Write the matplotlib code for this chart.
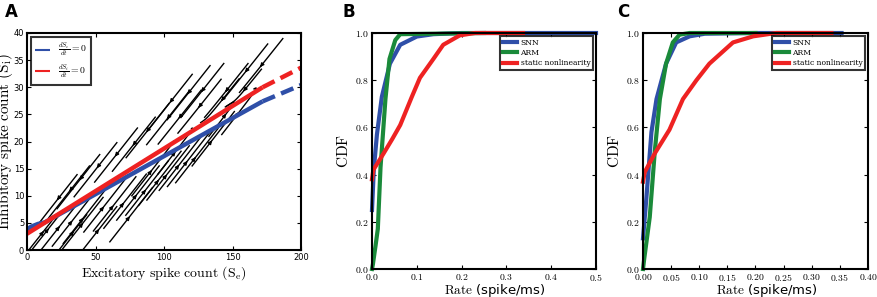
import numpy as np
import matplotlib
matplotlib.use("Agg")
import matplotlib.pyplot as plt
from matplotlib.ticker import FuncFormatter

plt.rcParams['mathtext.fontset'] = 'cm'
plt.rcParams['font.family'] = ['DejaVu Sans']

# ---------------- Panel A data ----------------
blue_se = [0, 3, 8, 13, 172]
blue_si = [3.8, 4.3, 4.8, 5.1, 27.4]
blue_dash_se = [172, 200]
blue_dash_si = [27.4, 30.4]
red_se = [0, 172]
red_si = [3.0, 30.0]
red_dash_se = [172, 200]
red_dash_si = [30.0, 33.6]
# streamline seed points (Se, Si)
seed_se = [21, 37.5, 50, 65, 88, 105, 128, 145.6, 171, 15, 23, 34, 42, 40, 57, 64,
           71.6, 81, 87.6, 97, 103, 112, 118, 124, 103, 111.5, 126, 139, 155, 157.5, 148, 111,
           6, 28, 50, 76, 30, 78, 118, 160, 136, 92]
seed_si = [8.9, 12.6, 14.8, 17.5, 22, 27.4, 29.4, 29.4, 34, 3.7, 4.1, 5.7, 6.2, 4.7, 8.3, 8.5,
           9, 10.5, 11.4, 13.2, 14.2, 16, 16.7, 17.4, 24.4, 24.5, 26.5, 26.6, 28.4, 26.3, 26, 19,
           1.5, 1.5, 3.0, 6.5, 10.5, 19.5, 29.0, 33.0, 20.5, 15.0]
# linearised flow: fast / slow directions (slopes in data units) and rates
fast_slope, slow_slope = 0.32, 0.16
fast_rate, slow_rate = -1.0, -0.006
fixed_point = (30.0, 8.0)

# ---------------- Panel B data ----------------
b_snn_x = [0.0, 0.004, 0.011, 0.022, 0.04, 0.063, 0.1, 0.137, 0.2, 0.5]
b_snn_y = [0.25, 0.42, 0.57, 0.73, 0.87, 0.95, 0.985, 0.995, 1.0, 1.0]
b_arm_x = [0.0, 0.002, 0.008, 0.013, 0.019, 0.03, 0.039, 0.052, 0.063, 0.25]
b_arm_y = [0.0, 0.02, 0.1, 0.17, 0.43, 0.72, 0.89, 0.97, 0.995, 1.0]
b_stat_x = [0.0, 0.003, 0.026, 0.045, 0.063, 0.089, 0.107, 0.137, 0.159, 0.196, 0.23, 0.337]
b_stat_y = [0.38, 0.42, 0.49, 0.55, 0.61, 0.73, 0.81, 0.89, 0.95, 0.99, 1.0, 1.0]

# ---------------- Panel C data ----------------
c_snn_x = [0.0, 0.006, 0.015, 0.024, 0.041, 0.059, 0.083, 0.11, 0.2, 0.353]
c_snn_y = [0.13, 0.3, 0.58, 0.72, 0.87, 0.96, 0.986, 0.997, 1.0, 1.0]
c_arm_x = [0.0, 0.002, 0.012, 0.021, 0.03, 0.041, 0.053, 0.065, 0.083, 0.2]
c_arm_y = [0.0, 0.04, 0.22, 0.5, 0.72, 0.87, 0.96, 0.993, 1.0, 1.0]
c_stat_x = [0.0, 0.003, 0.021, 0.047, 0.071, 0.095, 0.118, 0.16, 0.196, 0.237, 0.335]
c_stat_y = [0.37, 0.41, 0.49, 0.59, 0.72, 0.8, 0.87, 0.96, 0.986, 1.0, 1.0]

W, H = 878, 297
fig = plt.figure(figsize=(W / 100, H / 100), dpi=100)

def box(l, r, t, b):
    return [l / W, 1 - b / H, (r - l) / W, (b - t) / H]

axA = fig.add_axes(box(27, 301, 33, 250))
axB = fig.add_axes(box(372, 596, 33, 269))
axC = fig.add_axes(box(643, 868, 33, 269))

BLUE = '#2f4fa8'
GREEN = '#1a8a3a'
RED = '#ee2222'

for ax in (axA, axB, axC):
    for s in ax.spines.values():
        s.set_linewidth(1.5)
    ax.tick_params(direction='in', top=True, right=True, length=3, width=0.8, pad=2)

# ---- Panel A ----
P = np.array([[1.0, 1.0], [fast_slope, slow_slope]])
J = P @ np.diag([fast_rate, slow_rate]) @ np.linalg.inv(P)
gx = np.linspace(0, 200, 100)
gy = np.linspace(0, 40, 100)
GX, GY = np.meshgrid(gx, gy)
DX, DY = GX - fixed_point[0], GY - fixed_point[1]
U = J[0, 0] * DX + J[0, 1] * DY
V = J[1, 0] * DX + J[1, 1] * DY
seeds = np.column_stack([seed_se, seed_si])
axA.streamplot(gx, gy, U, V, start_points=seeds, color='black', linewidth=1.0,
               arrowsize=0.5, arrowstyle='-|>', integration_direction='both',
               maxlength=0.3, broken_streamlines=False, density=2)
axA.plot(blue_se, blue_si, color=BLUE, lw=3.2, label=r'$\frac{dS_e}{dt}=0$', solid_capstyle='butt')
axA.plot(red_se, red_si, color=RED, lw=3.2, label=r'$\frac{dS_i}{dt}=0$', solid_capstyle='butt')
axA.plot(blue_dash_se, blue_dash_si, color=BLUE, lw=3.2, ls=(0, (3, 1.5)), clip_on=False)
axA.plot(red_dash_se, red_dash_si, color=RED, lw=3.2, ls=(0, (3, 1.5)), clip_on=False)
axA.set_xlim(0, 200)
axA.set_ylim(0, 40)
axA.set_xticks([0, 50, 100, 150, 200])
axA.set_yticks([0, 5, 10, 15, 20, 25, 30, 35, 40])
axA.tick_params(labelsize=6)
axA.set_xlabel(r'$\mathrm{Excitatory\ spike\ count\ (S_e)}$', fontsize=10, labelpad=2)
axA.set_ylabel(r'$\mathrm{Inhibitory\ spike\ count\ (S_i)}$', fontsize=11, labelpad=0)
axA.yaxis.set_label_coords(-0.045, 0.5)
legA = axA.legend(loc='upper left', fontsize=7, frameon=True, fancybox=False, handlelength=1.5,
                  borderpad=0.45, labelspacing=0.35, handletextpad=0.8, borderaxespad=0.4)
legA.get_frame().set_edgecolor('black')
legA.get_frame().set_linewidth(1.5)
for lh in legA.get_lines():
    lh.set_linewidth(1.5)

# ---- Panels B, C ----
fmt1 = FuncFormatter(lambda v, p: r'$%.1f$' % v)
fmt2 = FuncFormatter(lambda v, p: r'$%.2f$' % v)

def cdf_panel(ax, sx, sy, ax_, ay, tx, ty, xmax, xticks, fmtx):
    ax.plot(sx, sy, color=BLUE, lw=3, label='SNN')
    ax.plot(ax_, ay, color=GREEN, lw=3, label='ARM')
    ax.plot(tx, ty, color=RED, lw=3, label='static nonlinearity')
    ax.set_xlim(0, xmax)
    ax.set_ylim(0, 1.0)
    ax.set_xticks(xticks)
    ax.set_yticks([0, 0.2, 0.4, 0.6, 0.8, 1.0])
    ax.xaxis.set_major_formatter(fmtx)
    ax.yaxis.set_major_formatter(fmt1)
    ax.tick_params(labelsize=7)
    ax.set_xlabel(r'$\mathrm{Rate}$ (spike/ms)', fontsize=9.5, labelpad=0)
    ax.xaxis.set_label_coords(0.55, -0.053)
    ax.set_ylabel(r'$\mathrm{CDF}$', fontsize=11, labelpad=3)
    leg = ax.legend(loc='upper right', prop={'family': 'DejaVu Serif', 'size': 5.5},
                    frameon=True, fancybox=False, handlelength=1.8, borderpad=0.35,
                    labelspacing=0.3, borderaxespad=0.4, handletextpad=0.5)
    leg.get_frame().set_edgecolor('black')
    leg.get_frame().set_linewidth(1.5)

cdf_panel(axB, b_snn_x, b_snn_y, b_arm_x, b_arm_y, b_stat_x, b_stat_y, 0.5,
          [0, 0.1, 0.2, 0.3, 0.4, 0.5], fmt1)
cdf_panel(axC, c_snn_x, c_snn_y, c_arm_x, c_arm_y, c_stat_x, c_stat_y, 0.4,
          [0, 0.05, 0.1, 0.15, 0.2, 0.25, 0.3, 0.35, 0.4], fmt2)
for ax in (axB, axC):
    for ln in ax.get_lines():
        ln.set_clip_on(False)

fig.text(5 / W, 1 - 12 / H, 'A', fontsize=12, fontweight='bold', va='center', ha='left')
fig.text(343 / W, 1 - 12 / H, 'B', fontsize=12, fontweight='bold', va='center', ha='left')
fig.text(617 / W, 1 - 12 / H, 'C', fontsize=12, fontweight='bold', va='center', ha='left')

fig.savefig('out.png', dpi=100)
